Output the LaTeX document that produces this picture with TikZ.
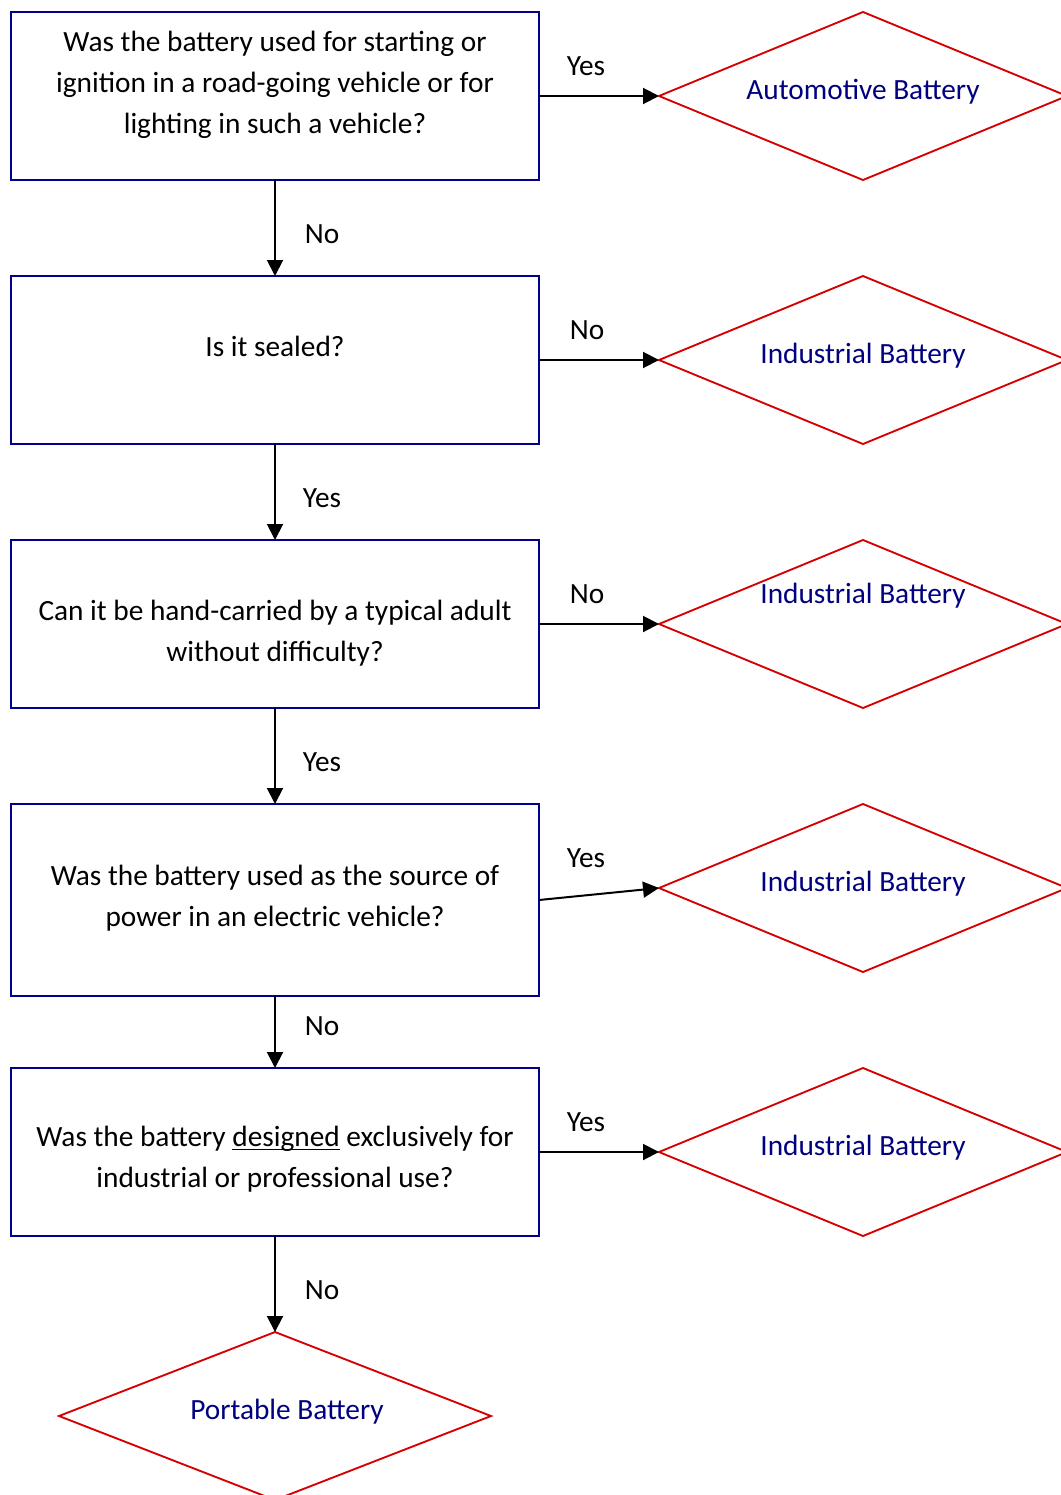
\documentclass[tikz,border=0pt]{standalone}
\usepackage{fontspec}
\setmainfont{Carlito}
\usetikzlibrary{shapes.geometric,arrows.meta}
\definecolor{boxblue}{RGB}{0,0,140}
\definecolor{dred}{RGB}{215,0,0}
\definecolor{tblue}{RGB}{0,0,128}
\newcommand{\myuline}[1]{\setbox0\hbox{#1}\rlap{\rule[-3.2pt]{\wd0}{1.3pt}}#1}
\begin{document}
\begin{tikzpicture}[x=0.75pt,y=-0.75pt,
  qbox/.style={draw=boxblue, line width=1.5pt, minimum width=396pt, inner sep=0pt, outer sep=0pt},
  ddia/.style={diamond, draw=dred, line width=1.4pt, inner sep=0pt, outer sep=0pt},
  qtext/.style={align=center, anchor=base, inner sep=0pt, font=\fontsize{22pt}{30.75pt}\selectfont},
  dtext/.style={anchor=base, inner sep=0pt, text=tblue, font=\fontsize{22pt}{30.75pt}\selectfont},
  lbl/.style={anchor=base, inner sep=0pt, font=\fontsize{22pt}{30.75pt}\selectfont},
  conn/.style={line width=1.5pt, -{Triangle[length=12pt,width=12pt]}}]
\useasboundingbox (0,0) rectangle (1060,1495);
% question boxes
\node[qbox, minimum height=126pt] (q1) at (275,96) {};
\node[qbox, minimum height=126pt] (q2) at (275,360) {};
\node[qbox, minimum height=126pt] (q3) at (275,624) {};
\node[qbox, minimum height=144pt] (q4) at (275,900) {};
\node[qbox, minimum height=126pt] (q5) at (275,1152) {};
% result diamonds
\node[ddia, minimum width=306pt, minimum height=126pt] (d1) at (863,96) {};
\node[ddia, minimum width=306pt, minimum height=126pt] (d2) at (863,360) {};
\node[ddia, minimum width=306pt, minimum height=126pt] (d3) at (863,624) {};
\node[ddia, minimum width=306pt, minimum height=126pt] (d4) at (863,888) {};
\node[ddia, minimum width=306pt, minimum height=126pt] (d5) at (863,1152) {};
\node[ddia, minimum width=324pt, minimum height=126pt] (d6) at (275,1416) {};
% texts (base anchor = baseline of last line)
\node[qtext] (t1) at (275,133) {Was the battery used for starting or\\ignition in a road-going vehicle or for\\lighting in such a vehicle?};
\node[qtext] (t2) at (275,356) {Is it sealed?};
\node[qtext] (t3) at (275,661) {Can it be hand-carried by a typical adult\\without difficulty?};
\node[qtext] (t4) at (275,926) {Was the battery used as the source of\\power in an electric vehicle?};
\node[qtext] (t5) at (275,1187) {Was the battery \myuline{designed} exclusively for\\industrial or professional use?};
\node[dtext] (r1) at (863,99) {Automotive Battery};
\node[dtext] (r2) at (863,363) {Industrial Battery};
\node[dtext] (r3) at (863,603) {Industrial Battery};
\node[dtext] (r4) at (863,891) {Industrial Battery};
\node[dtext] (r5) at (863,1155) {Industrial Battery};
\node[dtext] (r6) at (287,1419) {Portable Battery};
% connectors
\draw[conn] (q1.east) -- (d1.west);
\draw[conn] (q2.east) -- (d2.west);
\draw[conn] (q3.east) -- (d3.west);
\draw[conn] (q4.east) -- (d4.west);
\draw[conn] (q5.east) -- (d5.west);
\draw[conn] (q1.south) -- (q2.north);
\draw[conn] (q2.south) -- (q3.north);
\draw[conn] (q3.south) -- (q4.north);
\draw[conn] (q4.south) -- (q5.north);
\draw[conn] (q5.south) -- (d6.north);
% labels
\node[lbl] (l1) at (586,75) {Yes};
\node[lbl] (l2) at (322,243) {No};
\node[lbl] (l3) at (587,339) {No};
\node[lbl] (l4) at (322,507) {Yes};
\node[lbl] (l5) at (587,603) {No};
\node[lbl] (l6) at (322,771) {Yes};
\node[lbl] (l7) at (586,867) {Yes};
\node[lbl] (l8) at (322,1035) {No};
\node[lbl] (l9) at (586,1131) {Yes};
\node[lbl] (l10) at (322,1299) {No};
\end{tikzpicture}
\end{document}
